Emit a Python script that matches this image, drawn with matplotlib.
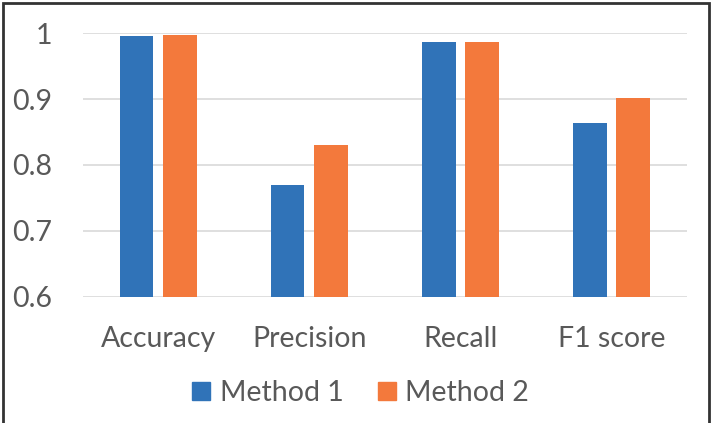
import numpy as np
import matplotlib.pyplot as plt
from matplotlib.patches import Patch, Rectangle

plt.rcParams['font.family'] = ['Lato', 'DejaVu Sans']

categories = ['Accuracy', 'Precision', 'Recall', 'F1 score']
method1 = [0.996, 0.769, 0.987, 0.864]
method2 = [0.998, 0.831, 0.987, 0.901]
yticks = [0.6, 0.7, 0.8, 0.9, 1.0]
ytick_labels = ['0.6', '0.7', '0.8', '0.9', '1']

blue = '#3073B8'
orange = '#F3793C'
grey = '#595959'
fs = 20.5

fig = plt.figure(figsize=(7.14, 4.23), dpi=100)
ax = fig.add_axes([0.1162, 0.2986, 0.846, 0.6227])

x = np.arange(len(categories))
w = 0.222
off = 0.144
ax.bar(x - off, method1, w, bottom=0, color=blue, zorder=3)
ax.bar(x + off, method2, w, bottom=0, color=orange, zorder=3)

ax.set_xlim(-0.5, len(categories) - 0.5)
ax.set_ylim(0.6, 1.0)
ax.set_yticks(yticks)
ax.set_yticklabels(ytick_labels)
ax.set_xticks(x)
ax.set_xticklabels(categories)
ax.tick_params(axis='both', length=0, labelsize=fs, colors=grey)
ax.tick_params(axis='y', pad=22)
ax.tick_params(axis='x', pad=21)
ax.grid(axis='y', color='#D9D9D9', linewidth=1.2, zorder=0)
for s in ax.spines.values():
    s.set_visible(False)

handles = [Patch(color=blue, label='Method 1'), Patch(color=orange, label='Method 2')]
leg = fig.legend(handles=handles, loc='center', bbox_to_anchor=(0.505, 0.071), ncol=2,
                 frameon=False, fontsize=fs, handlelength=0.63, handleheight=0.63,
                 handletextpad=0.35, columnspacing=1.2, borderpad=0)
for t in leg.get_texts():
    t.set_color(grey)

# outer frame
fig.patches.append(Rectangle((3 / 714, -0.05), 706 / 714, 1.05 - 3 / 423,
                             transform=fig.transFigure, fill=False,
                             edgecolor='#333333', linewidth=2))

fig.savefig('out.png', dpi=100)
